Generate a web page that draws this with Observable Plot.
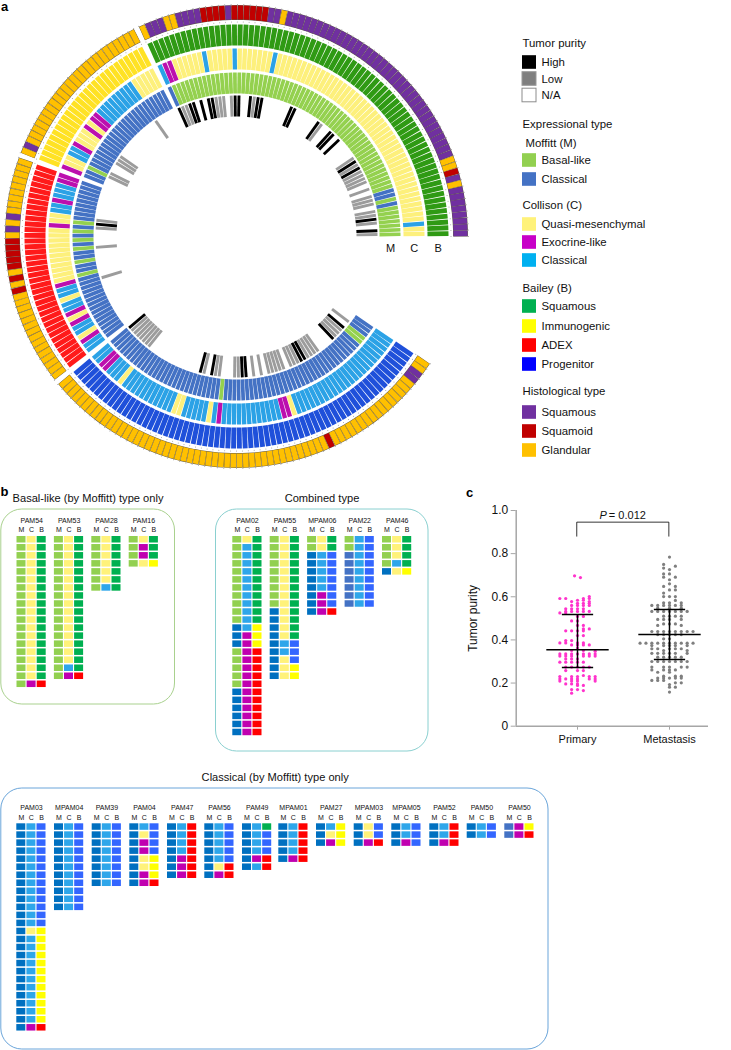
<!DOCTYPE html>
<html><head><meta charset="utf-8">
<script src="https://cdn.jsdelivr.net/npm/d3@7"></script>
<script src="https://cdn.jsdelivr.net/npm/@observablehq/plot@0.6"></script>
<style>html,body{margin:0;padding:0;background:#fff}#wrap{position:relative;width:731px;height:1050px;overflow:hidden}#wrap svg{position:absolute;background:transparent}</style>
</head><body><div id="wrap"></div>
<script>
// ---------- Panel a: one sample per bar, run-length coded, four arcs ----------
const histology = ["P8 O1 P1 R1 O2 P36 O1 P2 R6 P1 R4 P4 O2 P3 O1", "O25 P1 O1", "O9 P1 O1 P1 O1 R5 O1 R1 O1 R1 O15", "O47 R1 O16 P2 O2"];
const bailey    = ["S73", "I27", "A37", "N68"];
const collison  = ["Y2 C1 Y46 C1 Y7 C1 Y5 C1 Y6 M2 C1", "Y5 C9 M2 Y1 M1 Y3 M1 C2 Y2 M1",
                   "M2 C3 M1 C2 Y2 M1 Y11 M1 C2 Y1 C2 M1 Y1 M1 C2 Y1 M1 C2",
                   "C2 M2 C3 Y1 C11 Y2 C5 Y1 C1 M1 C12 M2 Y1 C24"];
const moffitt   = ["G7 B1 G1 B2 G61 B1", "B24 G1 B2", "B9 G1 B1 G1 B1 G1 B1 G1 B2 G1 B2 G1 B15", "B28 G1 B34 G2 B3"];
const purity    = ["GK.GKGG.GGG.G.GGGGKGKG.....K.KK..GK......KK.......KKGK..KKG.GGGKK.K.KKGGK",
                   ".....G............GGG..GG..",
                   "........GKG....G.......G.............",
                   "KGGGGGGG..............KG.KGG...GGKK.G.G.GGGGG.GGGKKGGGG....KGGGK.G.."];
const arcStarts = [0, 116.3, 160, 219.6];

// ---------- Legend ----------
const legendHeads  = ["Tumor purity", "Expressional type", "Moffitt (M)", "Collison (C)", "Bailey (B)", "Histological type"];
const legendLabels = ["High", "Low", "N/A", "Basal-like", "Classical", "Quasi-mesenchymal", "Exocrine-like", "Classical",
                      "Squamous", "Immunogenic", "ADEX", "Progenitor", "Squamous", "Squamoid", "Glandular"];

// ---------- Panel b: rows coded Moffitt/Collison/Bailey with repeat counts ----------
const basalNames = ["PAM54", "PAM53", "PAM28", "PAM16"];
const basalRows  = ["gys18 gma1", "gys16 gcs1 gma1", "gys6 gcs1", "gys1 gms2 gyi1"];
const combinedNames = ["PAM02", "PAM55", "MPAM06", "PAM22", "PAM46"];
const combinedRows  = ["gys1 gcs10 bci1 bmi2 gma5 bma6", "gys9 bys4 bcp2 byp1 byi2", "gys2 bcp5 bmp2 bma1", "gcp2 dcp7", "gys3 gcs1 byi1"];
const classicalNames = ["PAM03", "MPAM04", "PAM39", "PAM04", "PAM47", "PAM56", "PAM49", "MPAM01", "PAM27", "MPAM03", "MPAM05", "PAM52", "PAM50", "PAM50"];
const classicalRows  = ["bcp13 byi1 bci11 bma1", "bcp11", "bcp8", "bcp1 byp1 bmp2 byi2 bmi1 bma1", "bca4 bma3", "bcp5 bya1 bma1",
                        "bcs1 bcp3 bma1 bca1", "bca4 bma1", "bci1 byi1 bmi1", "byp2 bma1", "bcp2 bmp1", "bca2 bma1", "bcp2", "dmi1 dma1"];

// ---------- Panel c: [tumor purity, swarm columns] ----------
const groups = ["Primary", "Metastasis"];
const primaryRows = [[.697,[-.5]],[.689,[.5]],[.601,[2]],[.592,[-3,-2,1,2]],[.584,[0,1]],[.578,[-1,2]],[.570,[0,1,2]],[.560,[-1,0,1,2]],
  [.544,[-2,-1,0,1]],[.532,[-2,-1,0,1,2]],[.525,[-3,-2]],[.509,[0,1]],[.488,[-1,0]],[.467,[0,1]],[.451,[1,2]],[.442,[-2,-1,0,1]],
  [.420,[0,1]],[.397,[-2,-1]],[.386,[-3,-2,0,1]],[.377,[-1,0,1,2]],[.362,[0]],[.351,[-1,1]],[.348,[3]],[.335,[-3,-2,-1,0,1,2,3]],
  [.325,[-3,-2,-1,1,2,3]],[.312,[-2,-1,0]],[.297,[-3,-2,-1,0,1]],[.274,[-2,-1,0,1,2]],[.258,[-2,0,1]],[.235,[1]],[.230,[-3,-1,0,2,3]],
  [.219,[-3,-2,-1,0,2,3]],[.209,[-3,-1,0,3]],[.196,[-2,-1,0]],[.189,[0,1]],[.170,[-1,0]],[.165,[1]],[.153,[-1]]];
const metastasisRows = [[.784,[0]],[.750,[-1]],[.742,[1]],[.733,[-1]],[.726,[0]],[.706,[-1,0]],[.691,[-1,1]],[.679,[0]],[.660,[0]],
  [.648,[-1,1]],[.632,[0,1]],[.617,[-1]],[.601,[-1,0,1]],[.583,[1]],[.572,[-1,0,2]],[.560,[-3,-2,-1,0,1,2]],[.547,[-2,0,2]],
  [.532,[-3,-2,-1,0,1,2,3]],[.510,[-1,0,1,2]],[.495,[-2,-1,0,2]],[.474,[-1,0,1]],[.467,[-2,2]],[.439,[-3,-2,-1,0,1,2,3,4]],
  [.425,[-2,-1,0,1,2]],[.405,[-1,0]],[.385,[-5,-4,-3,-2,-1,0,1,2,3,4]],[.374,[-3,-1,0,1,3]],[.359,[-3,-2,0,1,2]],[.351,[-1,3]],
  [.338,[-3,-2,-1,0,1,3]],[.320,[-2,-1,0,1,2]],[.300,[-3,-2,-1,0,1,2,3]],[.274,[-3,-1,0,2,3]],[.261,[-3,-1,0,1]],[.250,[-2,0]],
  [.232,[-1,1,2]],[.223,[-2,-1,0,1,2]],[.212,[-3,-2,-1]],[.201,[1,2]],[.193,[0]],[.181,[0,1]],[.158,[0]]];
const medians = [.354, .425];
const lowerQuartiles = [.272, .309];
const upperQuartiles = [.518, .541];

// ---------- Styles ----------
const FONT = "'Liberation Sans', Arial, sans-serif";
const ringColors = {P:"#7030a0", R:"#c00000", O:"#ffc000", S:"#2f9a14", I:"#ffe224", A:"#ff1a1a", N:"#1f50da",
                    Y:"#fdf07c", M:"#bc0fae", C:"#2ba2e6", G:"#94d14f", B:"#4472c4", K:"#000000"};
const cellColors = {g:"#92d050", b:"#0070c0", d:"#4472c4", y:"#fff27a", m:"#c000b0", c:"#2ea6ea", s:"#00b050", i:"#ffff00", a:"#ff0000", p:"#3366ff"};
const legendHeadPos = [[522,43],[522,124],[525,143],[522,205],[522,288],[522,391]];
const legendRowY = [62,78.5,95,160,179,224,242,260,306,326,345,364,412,431,450];
const legendFill = ["#000000","#7f7f7f","#ffffff","#92d050","#4472c4","#fff27a","#c800c8","#00b0f0","#00b050","#ffff00","#ff0000","#0000ff","#7030a0","#c00000","#ffc000"];

// ---------- Ring geometry ----------
const cx = 236, cy = 236, STEP = 1.575;
const polar = (deg, r) => [cx + r*Math.cos(deg*Math.PI/180), cy - r*Math.sin(deg*Math.PI/180)];
const expand = s => s.split(" ").flatMap(t => Array(+t.slice(1)).fill(t[0]));
function ringData(arcs, r0, r1, rle=true){
  const out = [];
  arcs.forEach((arc, k) => (rle ? expand(arc) : [...arc]).forEach((v, i) => {
    if (v === ".") return;
    const a = arcStarts[k] + (i+.5)*STEP, [x1,y1] = polar(a,r0), [x2,y2] = polar(a,r1);
    out.push({v,x1,y1,x2,y2});
  }));
  return out;
}
const ringMark = (d, w, stroke) => Plot.link(d, {x1:"x1",y1:"y1",x2:"x2",y2:"y2",strokeWidth:w,stroke:stroke||(o=>ringColors[o.v]),markerEnd:"none"});

// ring tick dots
const tickDots = [];
arcStarts.forEach((s,k)=>{const n=expand(bailey[k]).length; for(let i=0;i<=n;i++){const a=s+i*STEP; for(const r of [214.5,232]){const [x,y]=polar(a,r); tickDots.push({x,y});}}});

// ---------- Panel b layout ----------
function panelCells(names, rows, xs, y0){
  const cells=[], labels=[], heads=[];
  names.forEach((nm,g)=>{
    const x=xs[g];
    labels.push({t:nm,x:x+14.7,y:y0-16});
    ["M","C","B"].forEach((h,j)=>heads.push({t:h,x:x+4.5+j*10.1,y:y0-6.5}));
    let row=0;
    rows[g].split(" ").forEach(tok=>{
      const code=tok.slice(0,3), n=+tok.slice(3);
      for(let r=0;r<n;r++,row++) [...code].forEach((c,j)=>{
        const x1=x+j*10.1;
        cells.push({x1,x2:x1+9,y1:y0+row*8.03,y2:y0+row*8.03+6.5,f:cellColors[c]});
      });
    });
  });
  return {cells,labels,heads};
}
const basalXs = [16.5,53.9,91.3,128.7];
const combinedXs = [232.3,269.7,307.1,344.6,382];
const classicalXs = [16.3,54,91.7,129.3,167,204.3,242,278.3,316,353.7,391.3,429.3,466.7,504.3];
const pb = [panelCells(basalNames,basalRows,basalXs,536), panelCells(combinedNames,combinedRows,combinedXs,536), panelCells(classicalNames,classicalRows,classicalXs,823.3)];
const frames = [
  {x1:.8,x2:174.5,y1:509,y2:704,c:"#a9d18e"},
  {x1:215.5,x2:428,y1:509,y2:751,c:"#8ad0d0"},
  {x1:.8,x2:548,y1:788,y2:1049,c:"#6aa5da"}
];
const txt = (data,opt)=>Plot.text(data,{text:"t",x:"x",y:"y",fontFamily:FONT,fill:"#111",lineAnchor:"middle",...opt});

const main = Plot.plot({
  width:731,height:1050,margin:0,
  x:{domain:[0,731],range:[0,731],axis:null},
  y:{domain:[0,1050],range:[0,1050],axis:null},
  style:{fontFamily:FONT,background:"transparent"},
  marks:[
    // rings
    Plot.dot(tickDots,{x:"x",y:"y",r:.5,fill:"#9a9a9a"}),
    ringMark(ringData(histology,216.6,231.4),6.15,"#5b5346"),
    ringMark(ringData(histology,217,231),5.5),
    ringMark(ringData(bailey,191,212),4.9),
    ringMark(ringData(collison,167,188),4.3),
    ringMark(ringData(moffitt,143,164),3.7),
    ringMark(ringData(purity,120,141,false),2.9,o=>o.v==="K"?"#000":"#9c9c9c"),
    txt([{t:"M",x:390,y:247.5},{t:"C",x:413.7,y:247.5},{t:"B",x:437.7,y:247.5}],{fontSize:11}),
    // legend
    Plot.rect(legendLabels.map((t,i)=>({i,x1:522,x2:536,y1:legendRowY[i]-6.8,y2:legendRowY[i]+6.8})),
      {x1:"x1",x2:"x2",y1:"y1",y2:"y2",fill:d=>legendFill[d.i],stroke:d=>d.i===2?"#8c8c8c":d.i===1?"#999":"none",strokeWidth:1}),
    txt(legendLabels.map((t,i)=>({t,x:541,y:legendRowY[i]})),{textAnchor:"start",fontSize:11.4}),
    txt(legendHeads.map((t,i)=>({t,x:legendHeadPos[i][0],y:legendHeadPos[i][1]})),{textAnchor:"start",fontSize:11.4}),
    // panel b
    Plot.rect(frames,{x1:"x1",x2:"x2",y1:"y1",y2:"y2",stroke:"c",fill:"none",strokeWidth:1,rx:21}),
    ...pb.flatMap(p=>[
      Plot.rect(p.cells,{x1:"x1",x2:"x2",y1:"y1",y2:"y2",fill:"f"}),
      txt(p.labels,{fontSize:7}),
      txt(p.heads,{fontSize:7})
    ]),
    txt([{t:"Basal-like (by Moffitt) type only",x:87.5,y:497.5},{t:"Combined type",x:321.5,y:497.5},{t:"Classical (by Moffitt) type only",x:274.7,y:776.5}],{fontSize:11.1}),
    // panel letters
    txt([{t:"a",x:4,y:6},{t:"b",x:4,y:491},{t:"c",x:469,y:492}],{fontSize:13,fontWeight:"bold",fill:"#000"})
  ]
});
main.style.left="0";main.style.top="0";

// ---------- Panel c ----------
const COL = .064;
const swarm = (rows,g)=>rows.flatMap(([v,cols])=>cols.map(c=>({x:g+c*COL,v})));
const errBars = groups.flatMap((g,i)=>[
  {x1:i-.339,x2:i+.339,y1:medians[i],y2:medians[i]},
  {x1:i-.17,x2:i+.17,y1:lowerQuartiles[i],y2:lowerQuartiles[i]},
  {x1:i-.17,x2:i+.17,y1:upperQuartiles[i],y2:upperQuartiles[i]},
  {x1:i,x2:i,y1:lowerQuartiles[i],y2:upperQuartiles[i]}
]);
const M = {l:55.7,t:25,b:19.3,w:271,h:260};
// x scale: Primary at 0, Metastasis at 1, 92 px apart
const px0 = 577-460, px1 = 669-460;
const xDom = [(M.l-px0)/(px1-px0),(248-px0)/(px1-px0)];
const axisC = "#a6a6a6";
const pc = Plot.plot({
  width:M.w,height:M.h,marginLeft:M.l,marginRight:M.w-248,marginTop:M.t,marginBottom:M.b,
  style:{fontFamily:FONT,fontSize:"11px",color:"#111",background:"transparent"},
  x:{domain:xDom,axis:null},
  y:{domain:[0,1],axis:null},
  marks:[
    Plot.dot(swarm(primaryRows,0),{x:"x",y:"v",r:1.6,fill:"#ff33cc"}),
    Plot.dot(swarm(metastasisRows,1),{x:"x",y:"v",r:1.6,fill:"#7f7f7f"}),
    Plot.link(errBars,{x1:"x1",x2:"x2",y1:"y1",y2:"y2",stroke:"#000",strokeWidth:1.5}),
    // bracket
    Plot.line([[-.008,.881],[-.008,.946],[.993,.946],[.993,.881]],{x:d=>d[0],y:d=>d[1],stroke:"#000",strokeWidth:.8}),
    Plot.text(["P"],{x:.24,y:.977,textAnchor:"start",fontStyle:"italic",fontSize:11,fontFamily:FONT,fill:"#111"}),
    Plot.text(["= 0.012"],{x:.341,y:.977,textAnchor:"start",fontSize:11,fontFamily:FONT,fill:"#111"}),
    // axes
    Plot.ruleX([xDom[0]],{stroke:axisC,strokeWidth:1.5}),
    Plot.ruleY([0],{stroke:axisC,strokeWidth:1.5}),
    Plot.axisY({ticks:[0,.2,.4,.6,.8,1],tickFormat:d=>d===0?"0":d.toFixed(1),tickSize:5,tickPadding:3,stroke:axisC,label:"Tumor purity",labelAnchor:"center",labelArrow:"none",labelOffset:48,fill:"#111",fontSize:12}),
    Plot.axisX({ticks:[0,1],tickFormat:d=>groups[d],tickSize:4,tickPadding:5,stroke:axisC,label:null,fill:"#111",fontSize:11})
  ]
});
pc.style.left="460px";pc.style.top="485px";
const wrap=document.getElementById("wrap");
wrap.append(main,pc);
</script></body></html>
